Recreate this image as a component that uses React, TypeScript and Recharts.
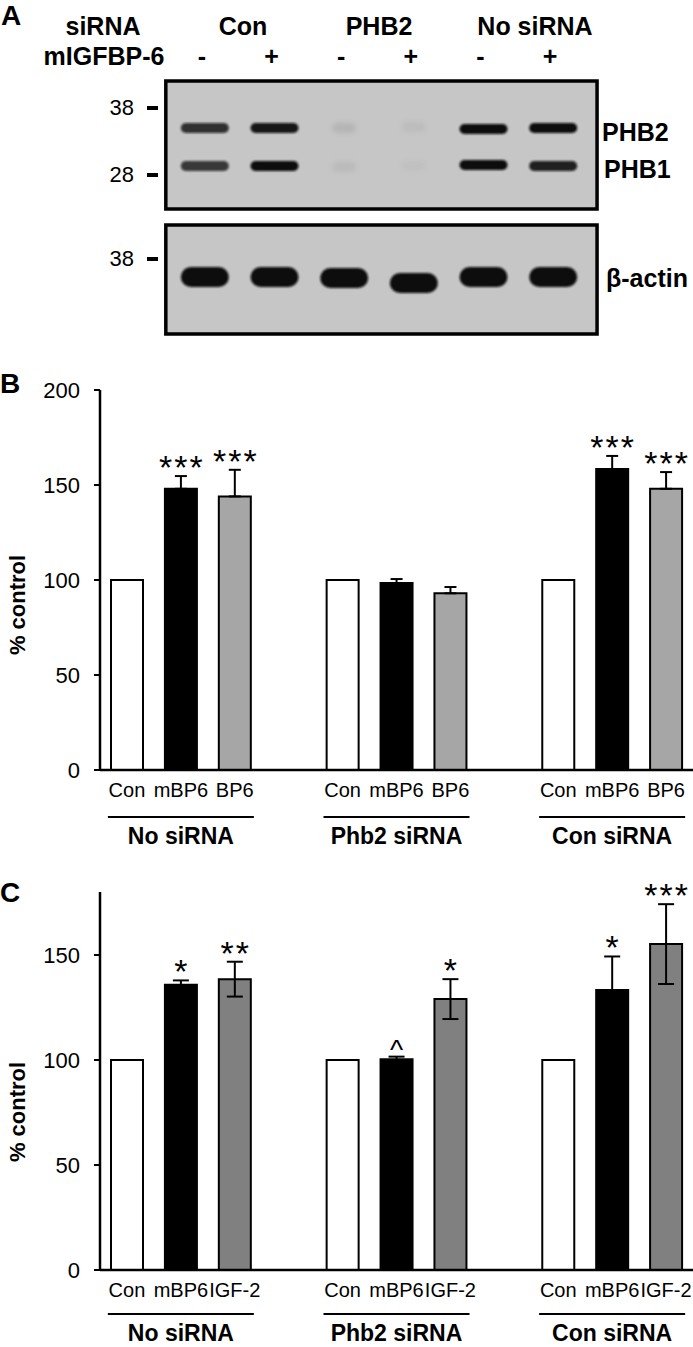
import React from 'react';
import {
  BarChart,
  Bar,
  XAxis,
  YAxis,
  ErrorBar,
  Cell,
  LabelList,
  ComposedChart,
  Scatter,
  ReferenceArea,
} from 'recharts';

const FONT = '"Liberation Sans", Arial, Helvetica, sans-serif';

// ---- panel A: western blot ----
const lanes = [1, 2, 3, 4, 5, 6];
const laneTreat = ['-', '+', '-', '+', '-', '+'];
const siRNAHeads = ['Con', 'PHB2', 'No siRNA'];
const phb2Signal = [0.72, 0.85, 0.09, 0.05, 1.0, 0.95];
const phb1Signal = [0.68, 0.9, 0.06, 0.03, 0.95, 0.8];
const actinSignal = [0.95, 0.95, 0.95, 1.0, 1.0, 0.92];
// migration distance on the membrane (top = 0)
const phb2Mig = [128, 128, 128, 127, 129, 128];
const phb1Mig = [166, 166, 167, 166, 165, 166];
const actinMig = [277, 277, 278, 283, 277, 277];

// ---- panels B / C ----
const groups = ['No siRNA', 'Phb2 siRNA', 'Con siRNA'];
const treatB = ['Con', 'mBP6', 'BP6'];
const meanB = [
  [100, 148, 144],
  [100, 98.4, 93],
  [100, 158.4, 148],
];
const errB = [
  [null, 6.7, 14],
  [null, 2.1, 3.3],
  [null, 6.9, 8.8],
];
const starsB = [
  ['', '***', '***'],
  ['', '', ''],
  ['', '***', '***'],
];

const treatC = ['Con', 'mBP6', 'IGF-2'];
const meanC = [
  [100, 135.8, 138.5],
  [100, 100.3, 129],
  [100, 133.3, 155.2],
];
const errC = [
  [null, 2.1, 8.3],
  [null, 1.3, 9.5],
  [null, 16, 19],
];
const starsC = [
  ['', '*', '**'],
  ['', '^', '*'],
  ['', '*', '***'],
];

function buildRows(means: number[][], errs: (number | null)[][], stars: string[][], treat: string[], oneSided: boolean) {
  const rows: any[] = [];
  groups.forEach((g, gi) => {
    treat.forEach((t, ti) => {
      const e = errs[gi][ti];
      rows.push({
        key: `${gi}-${ti}`,
        label: t,
        group: g,
        mid: ti === 1,
        value: means[gi][ti],
        err: e == null ? null : oneSided ? [0, e] : e,
        errUp: e || 0,
        star: stars[gi][ti],
        kind: ti,
      });
    });
    if (gi < groups.length - 1) {
      rows.push({ key: `gap${gi}`, label: '', group: '', mid: false, value: null, err: null, errUp: 0, star: '', kind: -1 });
    }
  });
  return rows;
}

const rowsB = buildRows(meanB, errB, starsB, treatB, true);
const rowsC = buildRows(meanC, errC, starsC, treatC, false);

const Txt = ({ x, y, anchor = 'start', size = 22, bold = false, children }: any) => (
  <div
    style={{
      position: 'absolute',
      left: x,
      top: y,
      transform: `translate(${anchor === 'middle' ? '-50%' : anchor === 'end' ? '-100%' : '0'}, -50%)`,
      fontSize: size,
      fontWeight: bold ? 'bold' : 'normal',
      lineHeight: 1,
      whiteSpace: 'nowrap',
      color: '#000',
    }}
  >
    {children}
  </div>
);

const Dash = ({ x, y }: any) => (
  <div style={{ position: 'absolute', left: x, top: y - 2, width: 11, height: 4, background: '#000' }} />
);

const BandShape = (props: any) => {
  const { cx, cy, payload, index } = props;
  if (cx == null || cy == null) return null;
  const faint = payload.signal < 0.3;
  const w = faint ? 24 : 48;
  const h = payload.thick;
  const id = `blur-${payload.row}-${index}`;
  return (
    <g>
      <defs>
        <filter id={id} x="-30%" y="-80%" width="160%" height="260%">
          <feGaussianBlur stdDeviation={faint ? 2.5 : 1.2} />
        </filter>
      </defs>
      <rect
        x={cx - w / 2}
        y={cy - h / 2}
        width={w}
        height={h}
        rx={h / 2}
        fill="#0d0d0d"
        fillOpacity={faint ? payload.signal : Math.min(1, payload.signal + 0.1)}
        filter={`url(#${id})`}
      />
    </g>
  );
};

function BlotPanel() {
  const bands = [
    ...lanes.map((l, i) => ({ lane: l, mig: phb2Mig[i], signal: phb2Signal[i], thick: 10, row: 'p2' })),
    ...lanes.map((l, i) => ({ lane: l, mig: phb1Mig[i], signal: phb1Signal[i], thick: 10, row: 'p1' })),
    ...lanes.map((l, i) => ({ lane: l, mig: actinMig[i], signal: actinSignal[i], thick: 20, row: 'ac' })),
  ];
  return (
    <div style={{ position: 'absolute', left: 0, top: 0 }}>
      <ComposedChart width={693} height={340} margin={{ top: 0, right: 105, bottom: 0, left: 170 }}>
        <XAxis type="number" dataKey="lane" domain={[0.5, 6.5]} hide />
        <YAxis type="number" dataKey="mig" domain={[0, 340]} reversed hide />
        <ReferenceArea x1={0.44} x2={6.63} y1={81} y2={209} fill="#c6c6c6" fillOpacity={1} stroke="#000" strokeWidth={3.5} ifOverflow="visible" />
        <ReferenceArea x1={0.44} x2={6.63} y1={225} y2={334} fill="#c6c6c6" fillOpacity={1} stroke="#000" strokeWidth={3.5} ifOverflow="visible" />
        <Scatter data={bands} dataKey="mig" shape={BandShape} isAnimationActive={false} />
      </ComposedChart>
    </div>
  );
}

const GroupTick = (props: any) => {
  const { x, y, payload, rows, shift } = props;
  const row = rows.find((r: any) => r.key === payload.value);
  if (!row || !row.label) return null;
  return (
    <g fontFamily={FONT}>
      <text x={x} y={y + 27} textAnchor="middle" fontSize={20} fill="#000">
        {row.label}
      </text>
      {row.mid && (
        <>
          <line x1={x - 73} x2={x + 73} y1={y + 47 - shift} y2={y + 47 - shift} stroke="#000" strokeWidth={2} />
          <text x={x} y={y + 74 - shift} textAnchor="middle" fontSize={23} fontWeight="bold" fill="#000">
            {row.group}
          </text>
        </>
      )}
    </g>
  );
};

const makeStarLabel = (rows: any[]) => (props: any) => {
  const { x, y, width, height, value } = props;
  const row = rows.find((r: any) => r.key === value);
  if (!row || !row.star || !row.value) return null;
  const unit = height / row.value;
  const top = y - row.errUp * unit;
  const caret = row.star === '^';
  return (
    <text
      x={x + width / 2 + (caret ? 0 : 1)}
      y={top + (caret ? 2 : 3)}
      textAnchor="middle"
      fontSize={caret ? 28 : 34}
      letterSpacing={caret ? 0 : 2}
      fontFamily={FONT}
      fill="#000"
    >
      {row.star}
    </text>
  );
};

function BarPanel({ rows, top, height, marginTop, axisH, domain, ticks, gray, capW, shift }: any) {
  const fills = ['#ffffff', '#000000', gray];
  return (
    <div style={{ position: 'absolute', left: 0, top }}>
      <BarChart width={693} height={height} data={rows} margin={{ top: marginTop, right: 0, bottom: 0, left: 0 }} barSize={32}>
        <XAxis
          dataKey="key"
          height={axisH}
          interval={0}
          tickSize={0}
          tickMargin={0}
          tickLine={false}
          axisLine={{ stroke: '#000', strokeWidth: 2.5 }}
          tick={(p: any) => <GroupTick {...p} rows={rows} shift={shift} />}
        />
        <YAxis
          domain={domain}
          ticks={ticks}
          width={100}
          tickSize={6}
          tickMargin={14}
          allowDataOverflow
          axisLine={{ stroke: '#000', strokeWidth: 2.5 }}
          tickLine={{ stroke: '#000', strokeWidth: 2 }}
          tick={{ fontSize: 22, fill: '#000', fontFamily: FONT }}
        />
        <Bar dataKey="value" stroke="#000" strokeWidth={2} isAnimationActive={false}>
          {rows.map((r: any) => (
            <Cell key={r.key} fill={r.kind >= 0 ? fills[r.kind] : 'none'} />
          ))}
          <ErrorBar dataKey="err" direction="y" width={capW} stroke="#000" strokeWidth={2} />
          <LabelList dataKey="key" content={makeStarLabel(rows)} />
        </Bar>
      </BarChart>
    </div>
  );
}

export default function App() {
  const laneX = (l: number) => 170 + (l - 0.5) * (418 / 6);
  return (
    <div style={{ position: 'relative', width: 693, height: 1347, fontFamily: FONT, background: '#fff', overflow: 'hidden' }}>
      <style>{'body{margin:0}'}</style>

      {/* A */}
      <BlotPanel />
      <Txt x={1} y={16} size={28} bold>A</Txt>
      <Txt x={103} y={26} anchor="middle" size={25} bold>siRNA</Txt>
      <Txt x={243} y={26} anchor="middle" size={25} bold>{siRNAHeads[0]}</Txt>
      <Txt x={379} y={26} anchor="middle" size={25} bold>{siRNAHeads[1]}</Txt>
      <Txt x={535} y={26} anchor="middle" size={25} bold>{siRNAHeads[2]}</Txt>
      <Txt x={104} y={56} anchor="middle" size={25} bold>mIGFBP-6</Txt>
      {lanes.map((l, i) => (
        <Txt key={l} x={laneX(l) - 3} y={56} anchor="middle" size={25} bold>
          {laneTreat[i]}
        </Txt>
      ))}
      <Txt x={134} y={108} anchor="end" size={22}>38</Txt>
      <Dash x={147} y={108} />
      <Txt x={134} y={175} anchor="end" size={22}>28</Txt>
      <Dash x={147} y={175} />
      <Txt x={134} y={259} anchor="end" size={22}>38</Txt>
      <Dash x={147} y={259} />
      <Txt x={602} y={132} size={25} bold>PHB2</Txt>
      <Txt x={604} y={169} size={25} bold>PHB1</Txt>
      <Txt x={606} y={278} size={25} bold>β-actin</Txt>

      {/* B */}
      <BarPanel rows={rowsB} top={360} height={500} marginTop={30} axisH={90} domain={[0, 200]} ticks={[0, 50, 100, 150, 200]} gray="#a6a6a6" capW={6} shift={0} />
      <Txt x={0} y={384} size={28} bold>B</Txt>
      <div style={{ position: 'absolute', left: 18, top: 605, transform: 'translate(-50%, -50%) rotate(-90deg)', fontSize: 22, fontWeight: 'bold', whiteSpace: 'nowrap', lineHeight: 1 }}>
        % control
      </div>

      {/* C */}
      <BarPanel rows={rowsC} top={860} height={487} marginTop={32} axisH={77} domain={[0, 180]} ticks={[0, 50, 100, 150]} gray="#808080" capW={8} shift={3} />
      <Txt x={0} y={893} size={28} bold>C</Txt>
      <div style={{ position: 'absolute', left: 18, top: 1112, transform: 'translate(-50%, -50%) rotate(-90deg)', fontSize: 22, fontWeight: 'bold', whiteSpace: 'nowrap', lineHeight: 1 }}>
        % control
      </div>
    </div>
  );
}
